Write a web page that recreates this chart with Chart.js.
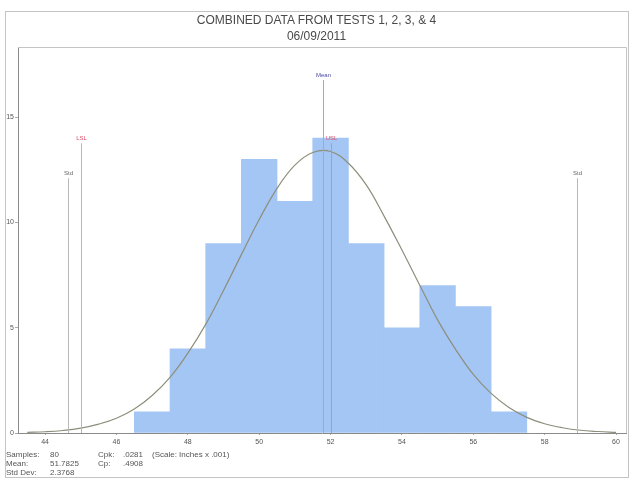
<!DOCTYPE html>
<html>
<head>
<meta charset="utf-8">
<script src="https://cdn.jsdelivr.net/npm/chart.js@4/dist/chart.umd.min.js"></script>
<style>
  html, body { margin: 0; padding: 0; background: #fff; }
  #wrap { position: relative; width: 633px; height: 482px; overflow: hidden; font-family: 'Liberation Sans', Arial, sans-serif; }
  #frame { position: absolute; left: 5px; top: 11px; width: 624px; height: 467px; border: 1px solid #c4c4c4; box-sizing: border-box; }
  #chart { position: absolute; left: 0; top: 0; }
  .title { position: absolute; left: 0; width: 633px; text-align: center; font-size: 12px; color: #4a4a4a; }
  .stat { position: absolute; font-size: 8px; color: #555; white-space: nowrap; }
</style>
</head>
<body>
<div id="wrap">
  <div id="frame"></div>
  <canvas id="chart" width="633" height="482"></canvas>
  <div class="title" style="top:13px">COMBINED DATA FROM TESTS 1, 2, 3, &amp; 4</div>
  <div class="title" style="top:29px">06/09/2011</div>
  <div id="stats"></div>
</div>
<script>
// histogram bins (centre of each 1-unit bin) and counts
const binCentres = [47, 48, 49, 50, 51, 52, 53, 54, 55, 56, 57];
const binCounts = [1, 4, 9, 13, 11, 14, 9, 5, 7, 6, 1];

// fitted curve
const curveX = [43.5, 44, 44.5, 45, 45.5, 46, 46.5, 47, 47.5, 48, 48.5, 49, 49.5, 50, 50.5, 51, 51.5, 52,
  52.5, 53, 53.5, 54, 54.5, 55, 55.5, 56, 56.5, 57, 57.5, 58, 58.5, 59, 59.5, 60];
const curveY = [0.03, 0.06, 0.12, 0.23, 0.42, 0.7, 1.14, 1.78, 2.64, 3.79, 5.16, 6.77, 8.47, 10.14, 11.62, 12.72, 13.32, 13.37,
  12.81, 11.78, 10.3, 8.69, 7.02, 5.37, 3.98, 2.78, 1.88, 1.21, 0.74, 0.44, 0.25, 0.13, 0.07, 0.03];

// reference lines
const markerNames = ['Std', 'LSL', 'Mean', 'USL', 'Std'];
const markerValues = [44.65, 45, 51.7825, 52, 58.91];
const markerTops = [12.1, 13.76, 16.76, 13.76, 12.1];

const xTicks = [44, 46, 48, 50, 52, 54, 56, 58, 60];
const yTicks = [0, 5, 10, 15];

const statRows = [
  ['Samples:', '80', 'Cpk:', '.0281', '(Scale: Inches x .001)'],
  ['Mean:', '51.7825', 'Cp:', '.4908', ''],
  ['Std Dev:', '2.3768', '', '', ''],
];

const markerStyle = {
  Std: { line: '#b8b8b8', text: '#666' },
  LSL: { line: '#c8b0b0', text: '#e0506a' },
  Mean: { line: '#a8a8b8', text: '#4a4aa8' },
  USL: { line: '#c890b0', text: '#e0506a' },
};

const statsBox = document.getElementById('stats');
const colX = [6, 50, 98, 123, 152];
statRows.forEach((row, i) => {
  row.forEach((txt, j) => {
    if (!txt) return;
    const d = document.createElement('div');
    d.className = 'stat';
    d.textContent = txt;
    d.style.left = colX[j] + 'px';
    d.style.top = (450 + i * 9) + 'px';
    statsBox.appendChild(d);
  });
});

const markerPlugin = {
  id: 'markers',
  afterDatasetsDraw(chart) {
    const { ctx, scales: { x, y }, chartArea } = chart;
    ctx.save();
    markerValues.forEach((v, i) => {
      const name = markerNames[i];
      const st = markerStyle[name];
      const px = Math.round(x.getPixelForValue(v)) + 0.5;
      const top = y.getPixelForValue(markerTops[i]);
      ctx.strokeStyle = st.line;
      ctx.lineWidth = 1;
      ctx.beginPath();
      ctx.moveTo(px, top);
      ctx.lineTo(px, chartArea.bottom);
      ctx.stroke();
      ctx.fillStyle = st.text;
      ctx.font = '6px "Liberation Sans", Arial, sans-serif';
      ctx.textAlign = 'center';
      ctx.textBaseline = 'bottom';
      ctx.fillText(name, px, top - 2);
    });
    // plot box top and right edges
    ctx.strokeStyle = '#c4c4c4';
    ctx.beginPath();
    ctx.moveTo(chartArea.left, chartArea.top + 0.5);
    ctx.lineTo(chartArea.right + 0.5, chartArea.top + 0.5);
    ctx.lineTo(chartArea.right + 0.5, chartArea.bottom);
    ctx.stroke();
    ctx.restore();
  },
};

new Chart(document.getElementById('chart'), {
  type: 'bar',
  data: {
    datasets: [
      {
        type: 'line',
        data: curveX.map((v, i) => ({ x: v, y: curveY[i] })),
        borderColor: '#8e8e7c',
        borderWidth: 1.2,
        pointRadius: 0,
        tension: 0.4,
        fill: false,
        order: 0,
      },
      {
        data: binCentres.map((v, i) => ({ x: v, y: binCounts[i] })),
        backgroundColor: '#a3c6f4',
        borderWidth: 0,
        barPercentage: 1,
        categoryPercentage: 1,
        order: 1,
      },
    ],
  },
  options: {
    responsive: false,
    animation: false,
    layout: { padding: { top: 47, right: 7, left: 0, bottom: 0 } },
    plugins: { legend: { display: false }, tooltip: { enabled: false } },
    scales: {
      x: {
        type: 'linear',
        min: 43.24,
        max: 60.28,
        offset: false,
        afterBuildTicks: (s) => { s.ticks = xTicks.map((v) => ({ value: v })); },
        afterFit: (s) => { s.height = 49; },
        grid: { display: true, offset: false, drawOnChartArea: false, tickLength: 2, color: '#aaa' },
        border: { color: '#8a8a8a' },
        ticks: { color: '#555', font: { size: 7, family: 'Liberation Sans' }, padding: 3, maxRotation: 0 },
      },
      y: {
        min: 0,
        max: 18.33,
        afterBuildTicks: (s) => { s.ticks = yTicks.map((v) => ({ value: v })); },
        afterFit: (s) => { s.width = 18; },
        grid: { display: true, drawOnChartArea: false, tickLength: 3, color: '#aaa' },
        border: { color: '#8a8a8a' },
        ticks: { color: '#555', font: { size: 7, family: 'Liberation Sans' }, padding: 1 },
      },
    },
  },
  plugins: [markerPlugin],
});
</script>
</body>
</html>
